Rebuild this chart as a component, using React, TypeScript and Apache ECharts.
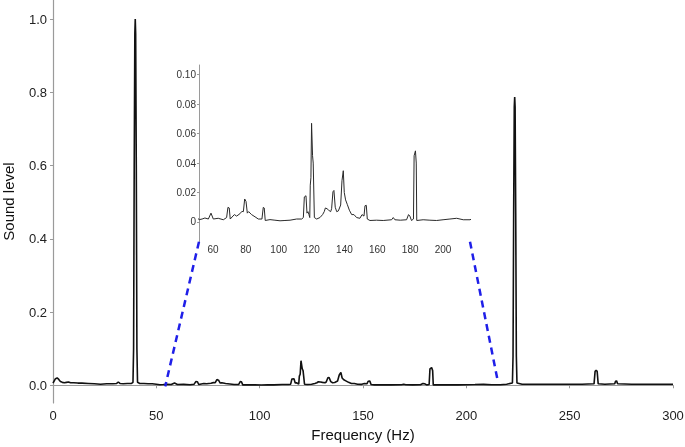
import { useEffect, useRef } from "react";
import * as echarts from "echarts";

// Spectrum: frequency (Hz) and sound level
const freqHz = [
  0, 0.6, 1.2, 2.0, 2.8, 3.6, 4.5, 5.5, 6.5, 7.5, 8.5, 10, 12, 14, 17, 20, 23, 26, 29, 30.8, 31.6, 32.4, 34, 36, 38,
  38.7, 39.0, 39.3, 39.6, 39.8, 40.0, 40.3, 40.6, 40.9,
  42, 44, 46, 48, 50,
  51.7, 53.4, 55.1, 57.2, 58.8, 60.2, 63.2, 66.3, 68.3, 69.1, 69.9, 70.5, 73.0, 74.4, 76.4, 77.6, 78.5, 79.3, 80.1,
  80.9, 81.7, 83.5, 85.6, 87.6, 89.8, 90.6, 91.2, 91.8, 94.7, 97.7, 100.8, 103.8, 106.9, 110.9, 114.0, 115.0, 115.6,
  116.6, 117.2, 117.8, 118.4, 118.9, 119.2, 119.6, 120.0, 120.6, 121.0, 121.7, 123.1, 125.1, 126.7, 127.7, 128.4,
  129.4, 130.4, 131.6, 132.2, 133.0, 133.6, 134.4, 135.3, 136.3, 137.7, 138.5, 139.3, 139.9, 140.7, 141.7, 143.0,
  144.4, 145.8, 147.4, 149.4, 150.7, 151.9, 152.5, 153.3, 153.9, 155.5, 159.5, 163.6, 168.7, 169.7, 170.7, 174.0,
  177.8, 179.0, 179.8, 180.8, 182.0, 182.4, 183.2, 183.7, 184.0, 187.9, 192.0, 196.1, 200.0, 204.2, 208.3, 212.3,
  216.4, 219.5,
  222.3, 222.6, 222.9, 223.2, 223.4, 223.6, 223.9, 224.2, 224.5,
  227, 232, 240, 248, 256, 261.8, 262.3, 262.8, 263.3, 263.8, 267, 271.8, 272.2, 272.7, 273.2, 280, 290, 300,
];
const soundLevel = [
  0.006, 0.012, 0.018, 0.020, 0.016, 0.010, 0.008, 0.007, 0.008, 0.009, 0.007, 0.007, 0.006, 0.006, 0.005, 0.004, 0.003, 0.004, 0.004, 0.005, 0.009, 0.005, 0.004, 0.005, 0.005,
  0.008, 0.1, 0.6, 0.96, 1.0, 0.96, 0.6, 0.1, 0.008,
  0.005, 0.005, 0.004, 0.004, 0.003,
  0.0016, 0.002, 0.0027, 0.002, 0.006, 0.002, 0.0025, 0.0015, 0.003, 0.0099, 0.0095, 0.002, 0.005, 0.004, 0.0056, 0.0072, 0.007, 0.0156, 0.014,
  0.006, 0.007, 0.005, 0.0035, 0.002, 0.002, 0.0099, 0.0095, 0.001, 0.0016, 0.0012, 0.0008, 0.001, 0.0012, 0.002, 0.002, 0.003, 0.017,
  0.0178, 0.006, 0.007, 0.005, 0.003, 0.025, 0.03, 0.067, 0.045, 0.04, 0.003, 0.002, 0.003, 0.005, 0.007, 0.0095,
  0.009, 0.008, 0.007, 0.009, 0.0205, 0.0214, 0.01, 0.007, 0.0075, 0.0115, 0.028, 0.0348, 0.02, 0.015, 0.012, 0.008,
  0.005, 0.005, 0.003, 0.0025, 0.005, 0.004, 0.011, 0.0113, 0.002, 0.001, 0.0012, 0.001, 0.0015, 0.003, 0.0015, 0.0012,
  0.0015, 0.005, 0.004, 0.001, 0.002, 0.045, 0.0483, 0.04, 0.001, 0.0015, 0.0012, 0.001, 0.0015, 0.002, 0.0025, 0.0015,
  0.0015, 0.003,
  0.006, 0.08, 0.47, 0.76, 0.787, 0.76, 0.47, 0.08, 0.006,
  0.003, 0.003, 0.003, 0.003, 0.003, 0.004, 0.038, 0.041, 0.038, 0.004, 0.003, 0.004, 0.011, 0.012, 0.004, 0.003, 0.003, 0.003,
];

const mainXTicks = [0, 50, 100, 150, 200, 250, 300];
const mainYTicks = [0, 0.2, 0.4, 0.6, 0.8, 1.0];
const insetXTicks = [60, 80, 100, 120, 140, 160, 180, 200];
const insetYTicks = [0, 0.02, 0.04, 0.06, 0.08, 0.1];
const mainXRange = [0, 300];
const mainYRange = [-0.0484, 1.052];
const insetXRange = [51.5, 216.4];
const insetYRange = [-0.0134, 0.1066];
// where the zoom lines meet the main plot (Hz, level)
const zoomTargets = [
  [54.3, -0.003],
  [215.3, 0.009],
];

export default function App() {
  const ref = useRef<HTMLDivElement>(null);
  useEffect(() => {
    const chart = echarts.init(ref.current!, null, { renderer: "svg" });
    const data = freqHz.map((f, i) => [f, soundLevel[i]]);
    const font = "'Liberation Sans', Arial, sans-serif";
    const axisGray = "#9a9a9a";
    chart.setOption({
      animation: false,
      grid: [
        { left: 53, right: 12, top: 0, bottom: 44, outerBoundsMode: "none", containLabel: false },
        { left: 199, top: 65, width: 271, height: 176.7, outerBoundsMode: "none", containLabel: false },
      ],
      xAxis: [
        {
          gridIndex: 0,
          type: "value",
          min: mainXRange[0],
          max: mainXRange[1],
          interval: 50,
          name: "Frequency (Hz)",
          nameLocation: "middle",
          nameGap: 24,
          nameTextStyle: { fontFamily: font, fontSize: 15, color: "#111" },
          axisLine: { lineStyle: { color: axisGray, width: 1.2 } },
          axisTick: { length: 3, lineStyle: { color: axisGray }, customValues: mainXTicks },
          axisLabel: { fontFamily: font, fontSize: 13, color: "#222", margin: 6, customValues: mainXTicks },
          splitLine: { show: false },
        },
        {
          gridIndex: 1,
          type: "value",
          min: insetXRange[0],
          max: insetXRange[1],
          axisLine: { show: false },
          axisTick: { show: false },
          axisLabel: {
            fontFamily: font,
            fontSize: 10,
            color: "#333",
            margin: 3,
            customValues: insetXTicks,
          },
          splitLine: { show: false },
        },
      ],
      yAxis: [
        {
          gridIndex: 0,
          type: "value",
          min: mainYRange[0],
          max: mainYRange[1],
          name: "Sound level",
          nameLocation: "middle",
          nameGap: 37,
          nameTextStyle: { fontFamily: font, fontSize: 15, color: "#111" },
          axisLine: { show: true, lineStyle: { color: axisGray, width: 1.2 } },
          axisTick: { show: true, length: 3, lineStyle: { color: axisGray }, customValues: mainYTicks },
          axisLabel: {
            fontFamily: font,
            fontSize: 13,
            color: "#222",
            margin: 6,
            customValues: mainYTicks,
            formatter: (v: number) => v.toFixed(1),
          },
          splitLine: { show: false },
        },
        {
          gridIndex: 1,
          type: "value",
          min: insetYRange[0],
          max: insetYRange[1],
          axisLine: { show: true, lineStyle: { color: axisGray, width: 1 } },
          axisTick: { show: true, length: 2, lineStyle: { color: axisGray }, customValues: insetYTicks },
          axisLabel: {
            fontFamily: font,
            fontSize: 10,
            color: "#333",
            margin: 3,
            customValues: insetYTicks,
            formatter: (v: number) => (v === 0 ? "0" : v.toFixed(2)),
          },
          splitLine: { show: false },
        },
      ],
      series: [
        {
          type: "line",
          xAxisIndex: 0,
          yAxisIndex: 0,
          data,
          showSymbol: false,
          lineStyle: { color: "#111", width: 1.6 },
        },
        {
          type: "line",
          xAxisIndex: 1,
          yAxisIndex: 1,
          data,
          showSymbol: false,
          clip: true,
          lineStyle: { color: "#2a2a2a", width: 1 },
        },
      ],
    });

    const insetCorners = [
      chart.convertToPixel({ gridIndex: 1 }, [insetXRange[0], insetYRange[0]]) as number[],
      chart.convertToPixel({ gridIndex: 1 }, [insetXRange[1], insetYRange[0]]) as number[],
    ];
    const targets = zoomTargets.map((t) => chart.convertToPixel({ gridIndex: 0 }, t) as number[]);
    chart.setOption({
      graphic: insetCorners.map((c, i) => ({
        type: "line",
        z: 10,
        shape: { x1: c[0], y1: c[1], x2: targets[i][0], y2: targets[i][1] },
        style: { stroke: "#1f1fe8", lineWidth: 2.5, lineDash: [7, 5] },
      })),
    });
    return () => chart.dispose();
  }, []);
  return <div ref={ref} style={{ position: "fixed", left: 0, top: 0, width: 685, height: 447 }} />;
}
